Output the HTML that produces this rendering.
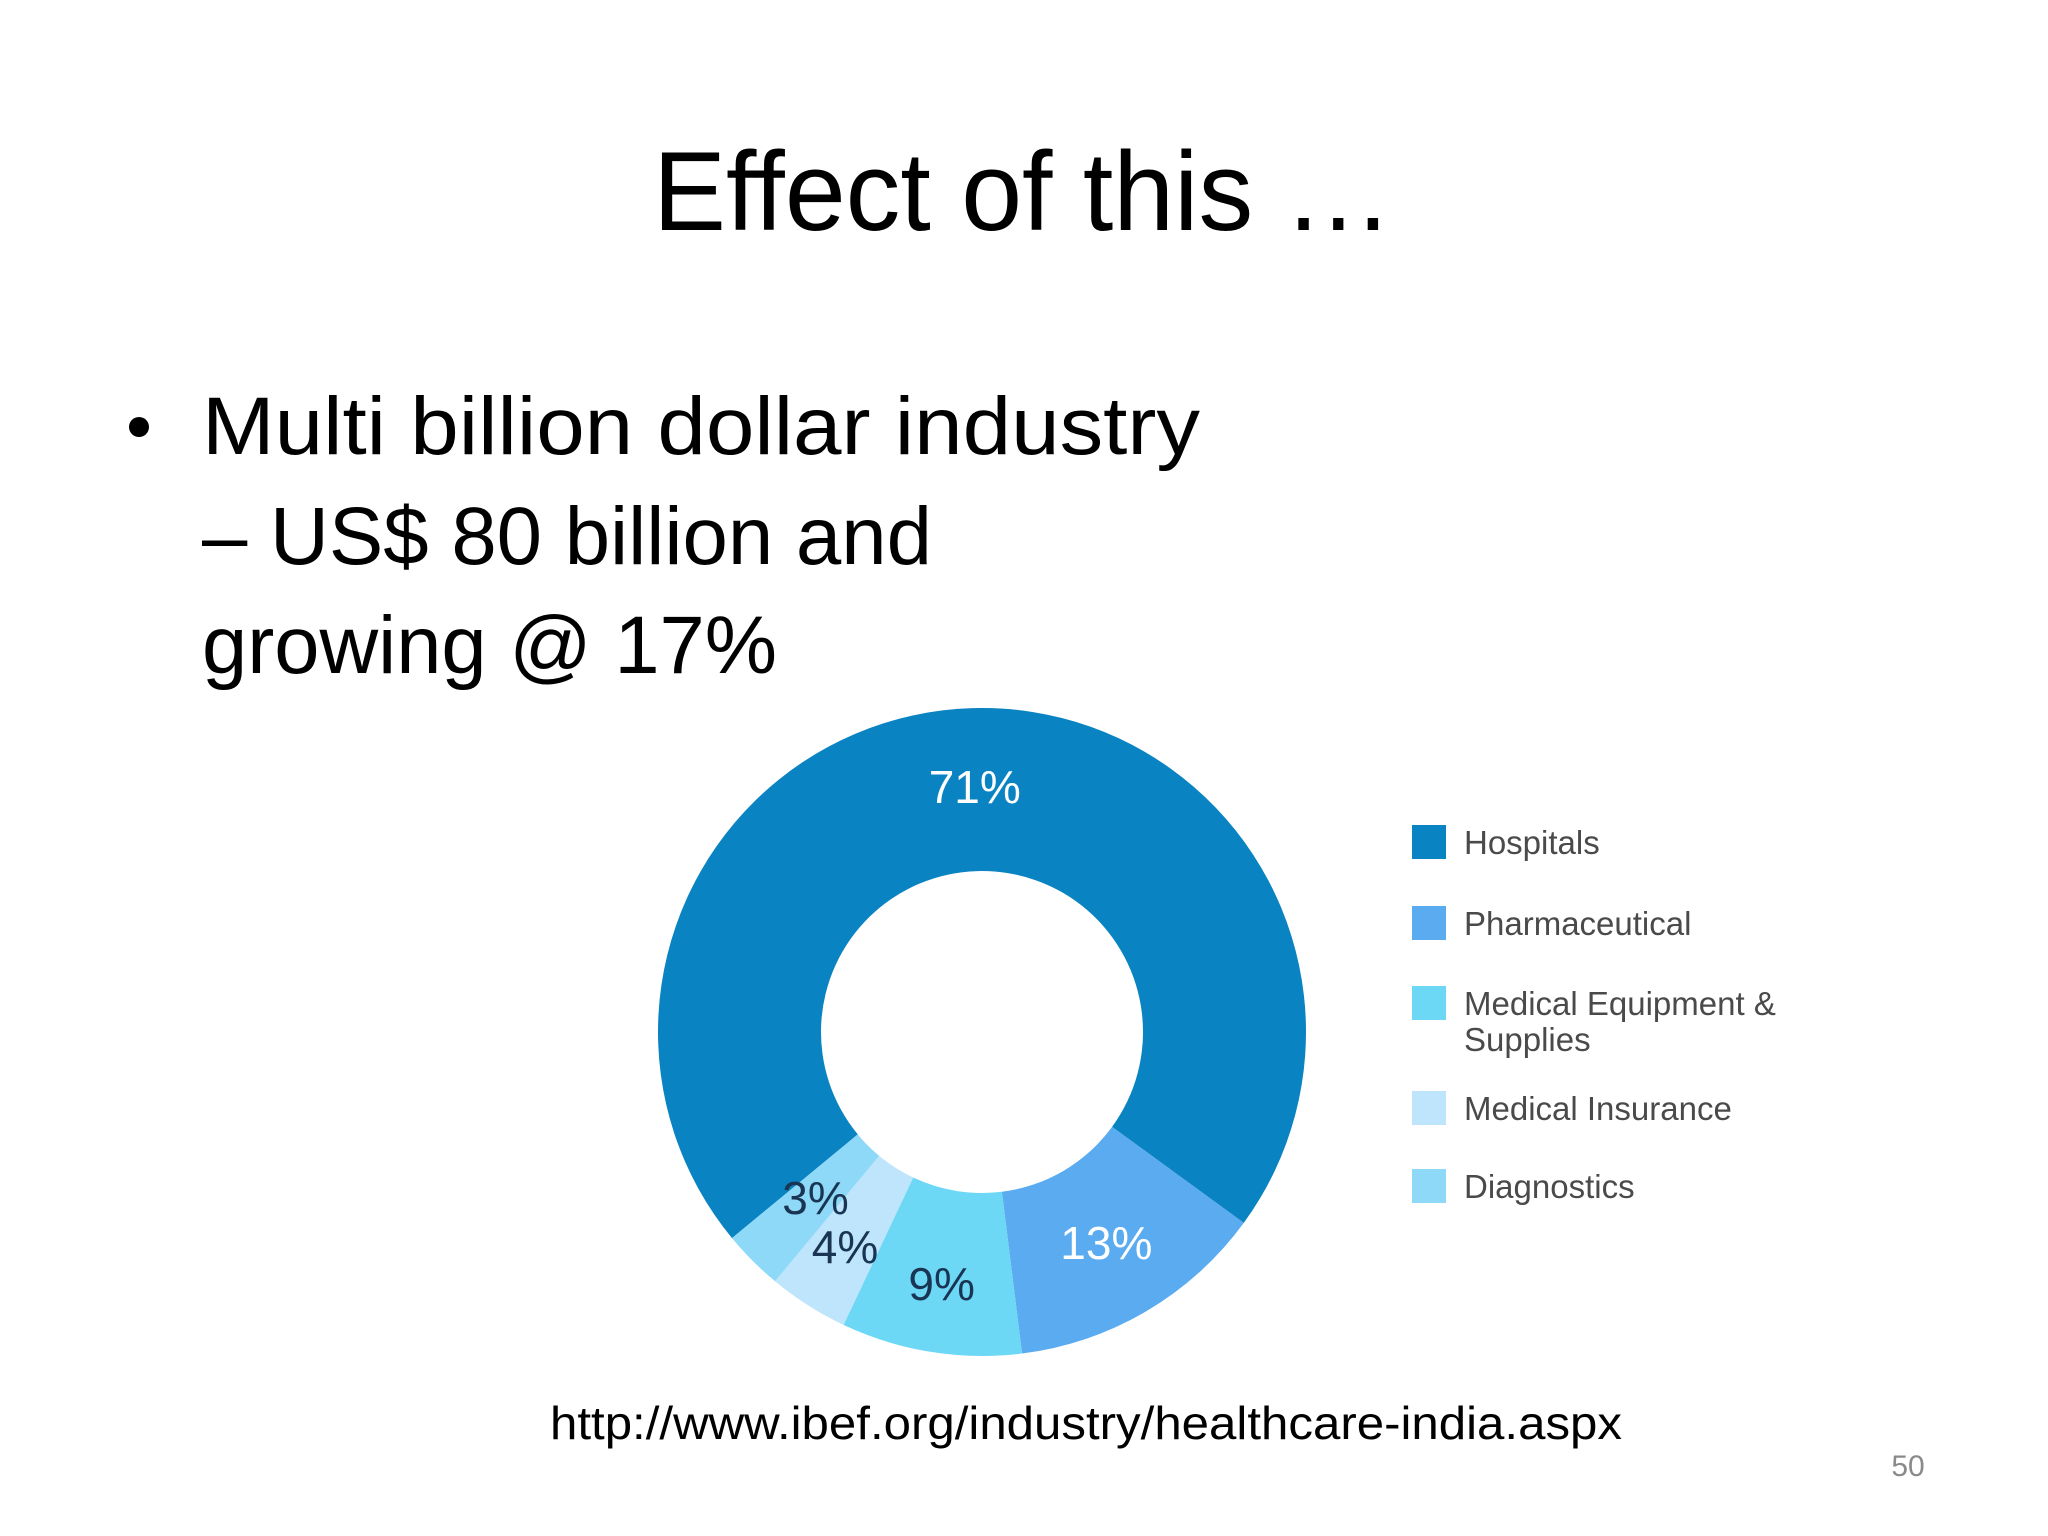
<!DOCTYPE html>
<html><head><meta charset="utf-8">
<style>
html,body{margin:0;padding:0;background:#fff;}
svg{display:block;}
text{font-family:"Liberation Sans",sans-serif;}
</style></head>
<body>
<svg id="slide" width="2048" height="1536" viewBox="0 0 2048 1536">
  <text x="1023" y="230" font-size="112" text-anchor="middle" textLength="740" lengthAdjust="spacingAndGlyphs" fill="#000">Effect of this …</text>
  <circle cx="139" cy="427" r="10" fill="#000"/>
  <text x="202" y="454" font-size="82" textLength="998" lengthAdjust="spacingAndGlyphs" fill="#000">Multi billion dollar industry</text>
  <text x="202" y="564" font-size="82" textLength="730" lengthAdjust="spacingAndGlyphs" fill="#000">– US$ 80 billion and</text>
  <text x="202" y="673" font-size="82" textLength="575" lengthAdjust="spacingAndGlyphs" fill="#000">growing @ 17%</text>
  <g id="donut"></g>
  <g id="legend"></g>
  <text x="1086" y="1439" font-size="46" text-anchor="middle" textLength="1072" lengthAdjust="spacingAndGlyphs" fill="#000">http://www.ibef.org/industry/healthcare-india.aspx</text>
  <text x="1908" y="1476" font-size="30" text-anchor="middle" fill="#8a8a8a">50</text>
</svg>
<script>
const categories = ["Hospitals","Pharmaceutical","Medical Equipment & Supplies","Medical Insurance","Diagnostics"];
const values = [71,13,9,4,3];
const valueLabels = ["71%","13%","9%","4%","3%"];
const colors = ["#0983c2","#5aabf0","#6dd7f6","#bee5fb","#8fd9f8"];
const labelColors = ["#ffffff","#ffffff","#1a3553","#1a3553","#1a3553"];

const NS = "http://www.w3.org/2000/svg";
const cx = 982, cy = 1032, R = 324, r = 161;
const startDeg = 230.5;
const total = values.reduce((a,b)=>a+b,0);
function pt(deg, rad){const a=(deg-90)*Math.PI/180;return [cx+rad*Math.cos(a), cy+rad*Math.sin(a)];}
const donut = document.getElementById('donut');
let acc = startDeg;
values.forEach((v,i)=>{
  const sweep = v/total*360;
  const a0 = acc, a1 = acc+sweep;
  const large = sweep>180?1:0;
  const [x0,y0]=pt(a0,R),[x1,y1]=pt(a1,R),[x2,y2]=pt(a1,r),[x3,y3]=pt(a0,r);
  const p=document.createElementNS(NS,'path');
  p.setAttribute('d',`M${x0},${y0} A${R},${R} 0 ${large} 1 ${x1},${y1} L${x2},${y2} A${r},${r} 0 ${large} 0 ${x3},${y3} Z`);
  p.setAttribute('fill',colors[i]);
  
  
  donut.appendChild(p);
  const mid=(a0+a1)/2;
  const [lx,ly]=pt(mid, i===0||i===1?245:(i===4?235:255));
  const t=document.createElementNS(NS,'text');
  t.setAttribute('x',lx);t.setAttribute('y',ly+16);
  t.setAttribute('text-anchor','middle');
  t.setAttribute('font-size','46');
  t.setAttribute('fill',labelColors[i]);
  t.textContent=valueLabels[i];
  
  
  donut.appendChild(t);
  acc=a1;
});
const legend=document.getElementById('legend');
const legYs=[825,906,986,1091,1169];
categories.forEach((c,i)=>{
  const g=document.createElementNS(NS,'g');
  
  
  const s=document.createElementNS(NS,'rect');
  s.setAttribute('x',1412);s.setAttribute('y',legYs[i]);s.setAttribute('width',34);s.setAttribute('height',34);
  s.setAttribute('fill',colors[i]);
  
  
  g.appendChild(s);
  const lines = c==="Medical Equipment & Supplies"?["Medical Equipment &","Supplies"]:[c];
  lines.forEach((ln,j)=>{
    const t=document.createElementNS(NS,'text');
    t.setAttribute('x',1464);t.setAttribute('y',legYs[i]+29+j*36);
    t.setAttribute('font-size','33');t.setAttribute('fill','#4a4a4a');
    t.textContent=ln;
    
    
    g.appendChild(t);
  });
  legend.appendChild(g);
});
</script>
</body></html>
